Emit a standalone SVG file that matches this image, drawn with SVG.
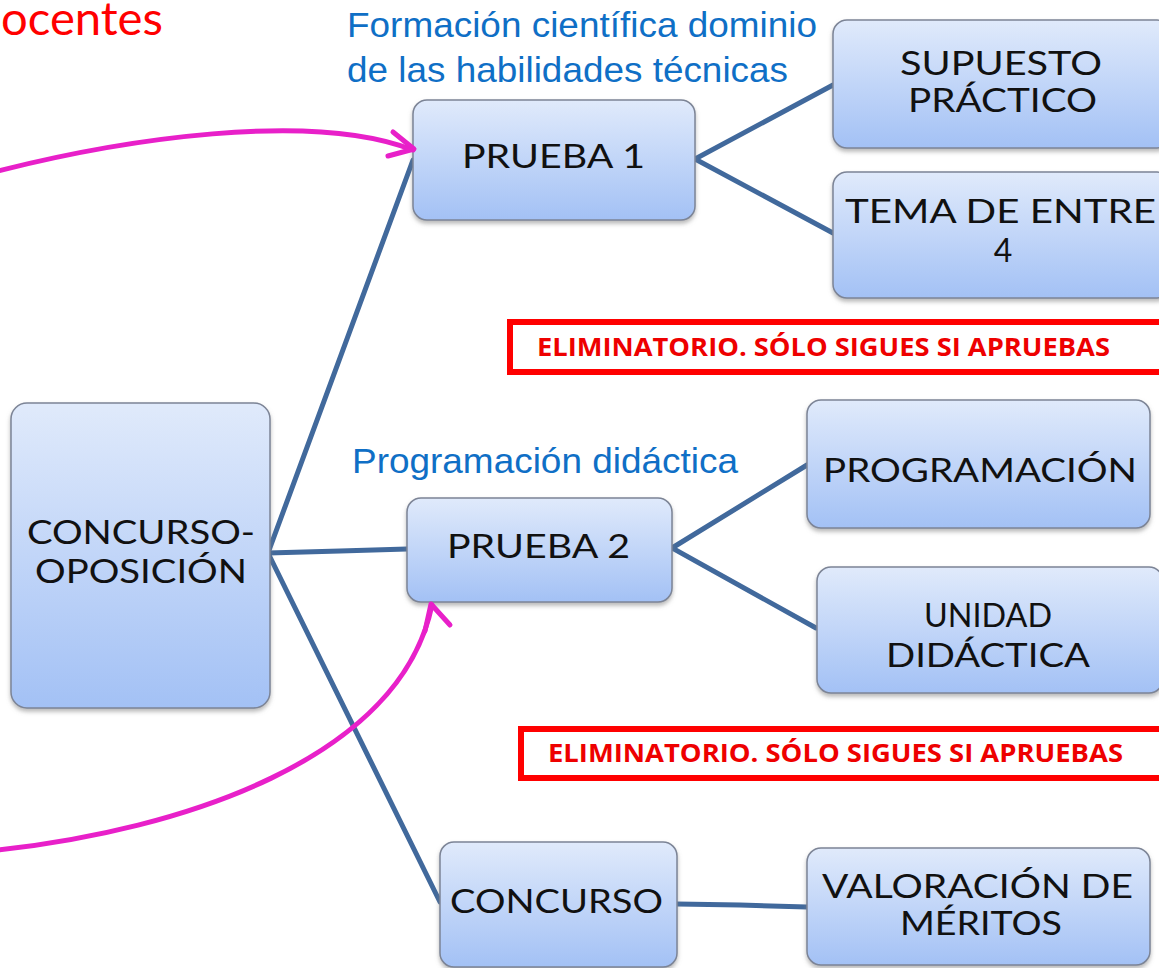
<svg xmlns="http://www.w3.org/2000/svg" width="1159" height="968" viewBox="0 0 1159 968">
  <defs>
    <linearGradient id="boxGrad" x1="0" y1="0" x2="0" y2="1">
      <stop offset="0" stop-color="#e0eafb"/>
      <stop offset="1" stop-color="#a3c1f5"/>
    </linearGradient>
    <filter id="shadow" x="-10%" y="-10%" width="120%" height="130%">
      <feDropShadow dx="0" dy="3" stdDeviation="2" flood-color="#808080" flood-opacity="0.55"/>
    </filter>
  </defs>
  <style>
    .box { fill: url(#boxGrad); stroke: #7c8496; stroke-width: 1.5; filter: url(#shadow); }
    .lbl { font-family: Lato, "Open Sans", "Liberation Sans", sans-serif; font-size: 32px; fill: #111; text-anchor: middle; }
    .note { font-family: "Liberation Sans", Arial, sans-serif; font-size: 35px; fill: #0f6fc6; }
    .conn { stroke: #41699c; stroke-width: 5; fill: none; stroke-linecap: round; }
    .mag { stroke: #e820c9; stroke-width: 5; fill: none; stroke-linecap: round; stroke-linejoin: round; }
    .warn { fill: #ffffff; stroke: #ff0000; stroke-width: 6; }
    .warnText { font-family: "Open Sans", "Liberation Sans", sans-serif; font-weight: bold; font-size: 25px; fill: #ee0000; }
  </style>
  <rect width="1159" height="968" fill="#ffffff"/>

  <text x="1" y="35" font-family="Lato, 'Liberation Sans', sans-serif" font-size="46" fill="#ff0000" textLength="162" lengthAdjust="spacingAndGlyphs">ocentes</text>

  <text class="note" x="347" y="37" textLength="470" lengthAdjust="spacingAndGlyphs">Formación científica dominio</text>
  <text class="note" x="347" y="82" textLength="441" lengthAdjust="spacingAndGlyphs">de las habilidades técnicas</text>
  <text class="note" x="352" y="473" textLength="386" lengthAdjust="spacingAndGlyphs">Programación didáctica</text>

  <g id="connectors">
    <line class="conn" x1="268" y1="553" x2="413" y2="160"/>
    <path class="conn" d="M268,553 L340,551 L407,549"/>
    <line class="conn" x1="268" y1="553" x2="440" y2="902"/>
    <polyline class="conn" points="833,85 695,159 833,233"/>
    <polyline class="conn" points="807,465 672,548 816,628"/>
    <path class="conn" d="M677,904 L740,905 L807,907"/>
  </g>

  <g id="warn1">
    <rect class="warn" x="510" y="322" width="700" height="50"/>
    <text class="warnText" x="537" y="356" textLength="573" lengthAdjust="spacingAndGlyphs">ELIMINATORIO. SÓLO SIGUES SI APRUEBAS</text>
  </g>
  <g id="warn2">
    <rect class="warn" x="521" y="729" width="700" height="49"/>
    <text class="warnText" x="548" y="762" textLength="575" lengthAdjust="spacingAndGlyphs">ELIMINATORIO. SÓLO SIGUES SI APRUEBAS</text>
  </g>

  <g id="concurso-oposicion">
    <rect class="box" x="11" y="403" width="259" height="305" rx="16"/>
    <text class="lbl" x="141" y="544" textLength="228" lengthAdjust="spacingAndGlyphs">CONCURSO-</text>
    <text class="lbl" x="141" y="583" textLength="212" lengthAdjust="spacingAndGlyphs">OPOSICIÓN</text>
  </g>
  <g id="prueba1">
    <rect class="box" x="413" y="100" width="282" height="120" rx="14"/>
    <text class="lbl" x="553.5" y="168" textLength="183" lengthAdjust="spacingAndGlyphs">PRUEBA 1</text>
  </g>
  <g id="prueba2">
    <rect class="box" x="407" y="498" width="265" height="104" rx="14"/>
    <text class="lbl" x="538.5" y="558" textLength="183" lengthAdjust="spacingAndGlyphs">PRUEBA 2</text>
  </g>
  <g id="concurso">
    <rect class="box" x="440" y="842" width="237" height="125" rx="14"/>
    <text class="lbl" x="556.5" y="913" textLength="213" lengthAdjust="spacingAndGlyphs">CONCURSO</text>
  </g>
  <g id="supuesto">
    <rect class="box" x="833" y="20" width="338" height="128" rx="14"/>
    <text class="lbl" x="1001" y="75" textLength="202" lengthAdjust="spacingAndGlyphs">SUPUESTO</text>
    <text class="lbl" x="1002.5" y="112" textLength="189" lengthAdjust="spacingAndGlyphs">PRÁCTICO</text>
  </g>
  <g id="tema">
    <rect class="box" x="833" y="172" width="338" height="126" rx="14"/>
    <text class="lbl" x="1000.5" y="223" textLength="311" lengthAdjust="spacingAndGlyphs">TEMA DE ENTRE</text>
    <text class="lbl" x="1003" y="262">4</text>
  </g>
  <g id="programacion">
    <rect class="box" x="807" y="400" width="343" height="128" rx="14"/>
    <text class="lbl" x="980" y="482" textLength="314" lengthAdjust="spacingAndGlyphs">PROGRAMACIÓN</text>
  </g>
  <g id="unidad">
    <rect class="box" x="817" y="567" width="346" height="126" rx="14"/>
    <text class="lbl" x="988" y="627" textLength="128" lengthAdjust="spacingAndGlyphs">UNIDAD</text>
    <text class="lbl" x="988" y="667" textLength="204" lengthAdjust="spacingAndGlyphs">DIDÁCTICA</text>
  </g>
  <g id="valoracion">
    <rect class="box" x="807" y="848" width="343" height="117" rx="14"/>
    <text class="lbl" x="977.5" y="898" textLength="311" lengthAdjust="spacingAndGlyphs">VALORACIÓN DE</text>
    <text class="lbl" x="981" y="935" textLength="162" lengthAdjust="spacingAndGlyphs">MÉRITOS</text>
  </g>

  <g id="arrows">
    <path class="mag" d="M-2,171 C120,140 310,110 413,150"/>
    <polyline class="mag" points="393,132 414,149 388,156"/>
    <path class="mag" d="M-2,850 C180,830 400,760 432,605"/>
    <polyline class="mag" points="425,631 431,604 450,625"/>
  </g>
</svg>
